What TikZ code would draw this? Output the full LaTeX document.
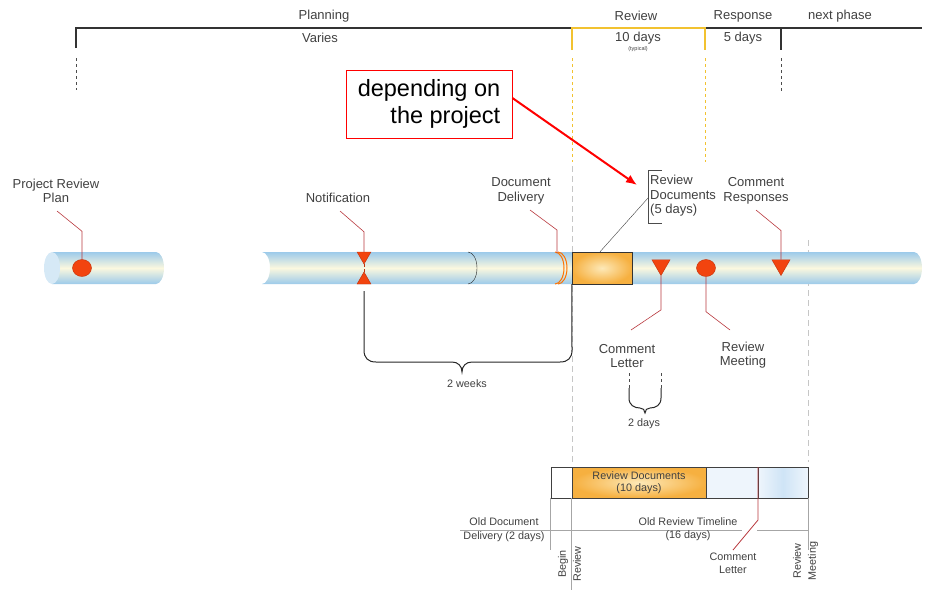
\documentclass[tikz,border=0pt]{standalone}
\usepackage{fontspec}
\setmainfont{Liberation Sans}
\usetikzlibrary{arrows.meta, positioning, calc, shapes.geometric}
\definecolor{tubeblue}{HTML}{9CCAEA}
\definecolor{tubecream}{HTML}{FBF8DF}
\definecolor{capblue}{HTML}{D6E9F6}
\definecolor{markred}{HTML}{F2440F}
\definecolor{markedge}{HTML}{C0300A}
\definecolor{leaderred}{HTML}{B8383E}
\definecolor{goldline}{HTML}{F2C230}
\definecolor{boxorange}{HTML}{F6B040}
\definecolor{boxlight}{HTML}{FDE9B8}
\definecolor{textgray}{HTML}{404040}
\definecolor{paleblue}{HTML}{EEF5FC}
\definecolor{midblue}{HTML}{CFE4F6}
\tikzset{
  phase_text/.style={font=\fontsize{13}{15}\selectfont, text=textgray, inner sep=0pt},
  tiny_text/.style={font=\fontsize{5.5}{6}\selectfont, text=textgray, inner sep=0pt},
  label_text/.style={font=\fontsize{13}{14.5}\selectfont, text=textgray, align=center, inner sep=0pt},
  small_text/.style={font=\fontsize{10.8}{13}\selectfont, text=textgray, align=center, inner sep=0pt},
  callout_box/.style={rectangle, draw=red, thick, fill=white, align=right, inner sep=0pt, minimum width=166pt, minimum height=68pt, font=\fontsize{23.5}{27}\selectfont},
  top_rule/.style={line width=1.5pt, black!80},
  gold_rule/.style={line width=1.5pt, goldline},
  dash_black/.style={dashed, black!70, line width=0.7pt},
  dash_gold/.style={dashed, goldline, line width=0.7pt},
  guide_dash/.style={gray!45, line width=0.8pt, dash pattern=on 6pt off 4pt},
  tube/.style={top color=tubeblue, bottom color=tubeblue, middle color=tubecream},
  leader/.style={draw=leaderred, line width=0.6pt},
  marker_dot/.style={ellipse, draw=markedge, fill=markred, minimum width=19pt, minimum height=17pt, inner sep=0pt},
  marker_tri/.style={regular polygon, regular polygon sides=3, draw=markedge, fill=markred, inner sep=0pt, minimum size=#1},
  doc_box/.style={rectangle, draw=black!80, inner color=boxlight, outer color=boxorange, inner sep=0pt},
  old_box/.style={rectangle, draw=black!75, inner sep=0pt, minimum height=31pt},
  brace_line/.style={black!85, line width=1pt},
  scale_line/.style={gray!70, line width=0.8pt},
  red_arrow/.style={-{Latex[length=11pt,width=9pt]}, red, line width=2pt}
}

\begin{document}
\begin{tikzpicture}[x=1pt,y=-1pt]
  \useasboundingbox (0,0) rectangle (931,590);

  % phase bar
  \node[phase_text] (planning) at (324,16) {Planning};
  \node[phase_text] (review) at (636,16) {Review};
  \node[phase_text] (response) at (743,16) {Response};
  \node[phase_text] (next_phase) at (840,16) {next phase};
  \node[phase_text] (varies) at (320,38) {Varies};
  \node[phase_text] (ten_days) at (638,38) {10 days};
  \node[tiny_text] (typical) at (638,49) {(typical)};
  \node[phase_text] (five_days) at (743,38) {5 days};

  \coordinate (bar_a) at (76,28);
  \coordinate (bar_b) at (572,28);
  \coordinate (bar_c) at (705,28);
  \coordinate (bar_d) at (781,28);
  \coordinate (bar_e) at (922,28);
  \draw[top_rule] ([yshift=-20pt]bar_a) -- (bar_a) -- (bar_b);
  \draw[top_rule] (bar_c) -- (bar_e);
  \draw[top_rule] (bar_d) -- ++(0,22);
  \draw[gold_rule] ([yshift=-22pt]bar_b) -- (bar_b) -- (bar_c) -- ++(0,22);
  \draw[dash_black] (76,58) -- (76,90);
  \draw[dash_black] (781,58) -- (781,92);
  \draw[dash_gold] (572,58) -- (572,162);
  \draw[dash_gold] (705,58) -- (705,162);
  \draw[guide_dash] (572,166) -- (572,462);
  \draw[guide_dash] (808,240) -- (808,462);

  % tubes
  \shade[tube] (52,252) -- (156,252) arc[start angle=-90, end angle=90, x radius=8, y radius=16] -- (52,284) -- cycle;
  \fill[capblue] (52,268) ellipse[x radius=8, y radius=16];
  \shade[tube] (262,252) -- (914,252) arc[start angle=-90, end angle=90, x radius=8, y radius=16]
    -- (262,284) arc[start angle=90, end angle=-90, x radius=8, y radius=16] -- cycle;
  \draw[black!85, thin] (468,252) arc[start angle=-90, end angle=90, x radius=9, y radius=16];
  \draw[orange!90!red, line width=1pt] (555,252) arc[start angle=-90, end angle=90, x radius=9, y radius=16];
  \draw[orange!90!red, line width=1pt] (558,252) arc[start angle=-90, end angle=90, x radius=9, y radius=16];
  \node[doc_box, minimum width=60pt, minimum height=32pt] (docs_five) at (602,268) {};

  % markers
  \node[marker_dot] (plan_dot) at (82,268) {};
  \node[marker_tri=16pt, shape border rotate=180] (notif_top) at (364,256) {};
  \node[marker_tri=16pt] (notif_bot) at (364,280) {};
  \draw[markedge, densely dashed, thin] (notif_top.corner 1) -- (notif_bot.corner 1);
  \node[marker_tri=21pt, shape border rotate=180] (letter_tri) at (661,265) {};
  \node[marker_dot] (meeting_dot) at (706,268) {};
  \node[marker_tri=21pt, shape border rotate=180] (resp_tri) at (781,265) {};

  % labels and leaders
  \node[label_text] (plan_lbl) at (56,191) {Project Review\\Plan};
  \node[label_text] (notif_lbl) at (338,198) {Notification};
  \node[label_text] (deliv_lbl) at (521,191) {Document\\Delivery};
  \node[label_text, align=left, anchor=west] (docs_lbl) at (650,196) {Review\\Documents\\(5 days)};
  \node[label_text] (resp_lbl) at (756,191) {Comment\\Responses};
  \node[label_text] (letter_lbl) at (627,356) {Comment\\Letter};
  \node[label_text] (meeting_lbl) at (743,355) {Review\\Meeting};

  \coordinate (plan_tail) at (57,211);
  \coordinate (notif_tail) at (340,211);
  \coordinate (deliv_tail) at (530,210);
  \coordinate (resp_tail) at (756,210);
  \coordinate (letter_tail) at (631,330);
  \coordinate (meeting_tail) at (730,330);
  \draw[leader] (plan_dot.north) -- ++(0,-28) -- (plan_tail);
  \draw[leader] (notif_top.side 2) -- ++(0,-20) -- (notif_tail);
  \draw[leader] (557,253) -- ++(0,-23) -- (deliv_tail);
  \draw[leader] (resp_tri.side 2) -- ++(0,-29) -- (resp_tail);
  \draw[leader] (letter_tri.corner 1) -- ++(0,34) -- (letter_tail);
  \draw[leader] (meeting_dot.south) -- ++(0,35) -- (meeting_tail);
  \draw[black!70, thin] ([xshift=12pt,yshift=5pt]docs_lbl.north west) -- ([xshift=-2pt,yshift=5pt]docs_lbl.north west)
    -- ([xshift=-2pt,yshift=-6pt]docs_lbl.south west) -- ([xshift=12pt,yshift=-6pt]docs_lbl.south west);
  \draw[black!75, thin] ([xshift=-2pt,yshift=-2pt]docs_lbl.west) -- ([xshift=-2pt]docs_five.north);

  % callout
  \node[callout_box] (callout) at (429,104) {depending on\\the project};
  \coordinate (callout_tip) at (637,185);
  \draw[red_arrow] ([yshift=6pt]callout.east) -- (callout_tip);

  % braces
  \draw[brace_line] (364,291) -- (364,350) .. controls (364,358) and (368,362) .. (376,362) -- (452,362)
    .. controls (458,362) and (462,366) .. (462,372) .. controls (462,366) and (466,362) .. (472,362)
    -- (560,362) .. controls (568,362) and (572,358) .. (572,350) -- (docs_five.south west);
  \node[small_text] (weeks_lbl) at (467,384) {2 weeks};
  \draw[dash_black, thin] (629,373) -- (629,388);
  \draw[dash_black, thin] (661,373) -- (661,388);
  \draw[brace_line] (629,388) -- (629,398) .. controls (629,405) and (634,408) .. (640,408)
    .. controls (643,408) and (645,410) .. (645,413) .. controls (645,410) and (647,408) .. (650,408)
    .. controls (656,408) and (661,405) .. (661,398) -- (661,388);
  \node[small_text] (days_lbl) at (644,424) {2 days};

  % old review timeline
  \node[old_box, minimum width=21pt, fill=white] (old_deliv) at (561.5,482.5) {};
  \node[old_box, minimum width=134pt, inner color=boxlight, outer color=boxorange, font=\fontsize{10.8}{12.5}\selectfont, text=textgray, align=center] (old_docs) at (639,482.5) {Review Documents\\(10 days)};
  \node[old_box, minimum width=52pt, fill=paleblue] (old_gap) at (732,482.5) {};
  \node[old_box, minimum width=50pt, left color=paleblue, right color=paleblue, middle color=midblue] (old_meet) at (783,482.5) {};
  \draw[old_box, draw=black!75] (old_deliv.north west) -- (old_meet.north east);

  \draw[scale_line] (old_deliv.south west) -- ++(0,52);
  \draw[scale_line] (old_docs.south west) -- ++(0,92);
  \draw[scale_line] (old_meet.south east) -- ++(0,52);
  \draw[scale_line] (460,530) -- (742,530);
  \draw[scale_line] (757,530) -- (808,530);
  \node[small_text] (old_deliv_a) at (504,522) {Old Document};
  \node[small_text] (old_deliv_b) at (504,537) {Delivery (2 days)};
  \node[small_text] (old_rev_a) at (688,522) {Old Review Timeline};
  \node[small_text] (old_rev_b) at (688,536) {(16 days)};
  \node[small_text, rotate=90] (begin_lbl) at (563,564) {Begin};
  \node[small_text, rotate=90] (begin_rev_lbl) at (577,564) {Review};
  \node[small_text, rotate=90] (meet_a_lbl) at (797,561) {Review};
  \node[small_text, rotate=90] (meet_b_lbl) at (813,561) {Meeting};
  \node[small_text] (old_letter_lbl) at (733,563) {Comment\\Letter};
  \coordinate (old_letter_tail) at (733,550);
  \draw[leader, line width=0.8pt] (758,467) -- (758,520) -- (old_letter_tail);
\end{tikzpicture}
\end{document}
